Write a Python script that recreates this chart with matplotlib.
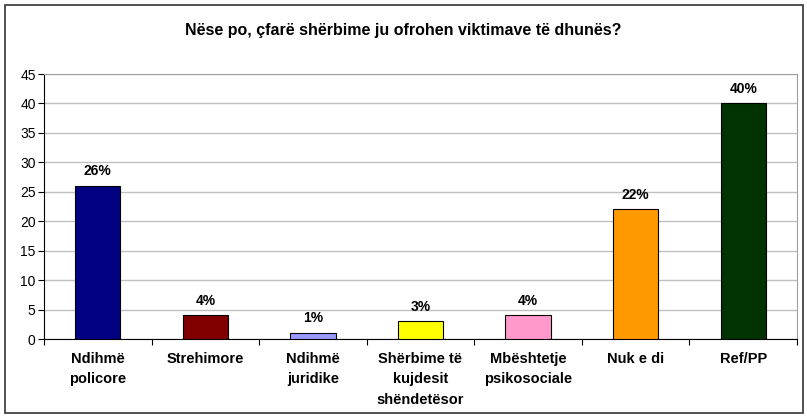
import matplotlib.pyplot as plt
from matplotlib.patches import Rectangle

categories = ['Ndihmë\npolicore', 'Strehimore', 'Ndihmë\njuridike',
              'Shërbime të\nkujdesit\nshëndetësor', 'Mbështetje\npsikosociale',
              'Nuk e di', 'Ref/PP']
values = [26, 4, 1, 3, 4, 22, 40]
labels = ['26%', '4%', '1%', '3%', '4%', '22%', '40%']
colors = ['#000080', '#800000', '#9999FF', '#FFFF00', '#FF99CC', '#FF9900', '#003300']
title = 'Nëse po, çfarë shërbime ju ofrohen viktimave të dhunës?'

plt.rcParams['font.family'] = ['Liberation Sans', 'DejaVu Sans']

fig = plt.figure(figsize=(8.07, 4.19), dpi=100)
W, H = 807, 419
ax = fig.add_axes([44 / W, 1 - 339 / H, (797 - 44) / W, (339 - 74) / H])

# outer chart frame
fig.patches.append(Rectangle((5 / W, 6 / H), 798 / W, 408 / H, transform=fig.transFigure,
                             fill=False, edgecolor='#333333', linewidth=1.2))

x = range(len(categories))
ax.bar(x, values, width=0.42, color=colors, edgecolor='black', linewidth=0.8, zorder=3)
for i, (v, lbl) in enumerate(zip(values, labels)):
    ax.text(i, v + 1.3, lbl, ha='center', va='bottom', fontsize=10, fontweight='bold')

ax.set_xlim(-0.5, len(categories) - 0.5)
ax.set_ylim(0, 45)
ax.set_yticks(range(0, 46, 5))
ax.yaxis.grid(True, color='#c0c0c0', linewidth=1, zorder=0)
ax.set_xticks([i - 0.5 for i in range(len(categories) + 1)])
ax.set_xticklabels([])
ax.set_xticks(list(x), minor=True)
ax.set_xticklabels(categories, minor=True, fontsize=10.5, fontweight='bold', va='top',
                   multialignment='center', linespacing=1.6)
ax.tick_params(axis='x', which='minor', length=0, pad=9)
ax.tick_params(axis='x', which='major', length=4, direction='out', color='black')
ax.tick_params(axis='y', length=4, direction='out', labelsize=10, pad=2)

for side in ['top', 'right']:
    ax.spines[side].set_color('#a0a0a0')
for side in ['left', 'bottom']:
    ax.spines[side].set_color('black')

fig.text(0.5, 1 - 31 / H, title, ha='center', va='center', fontsize=11.5, fontweight='bold')

fig.savefig('out.png', dpi=100)
